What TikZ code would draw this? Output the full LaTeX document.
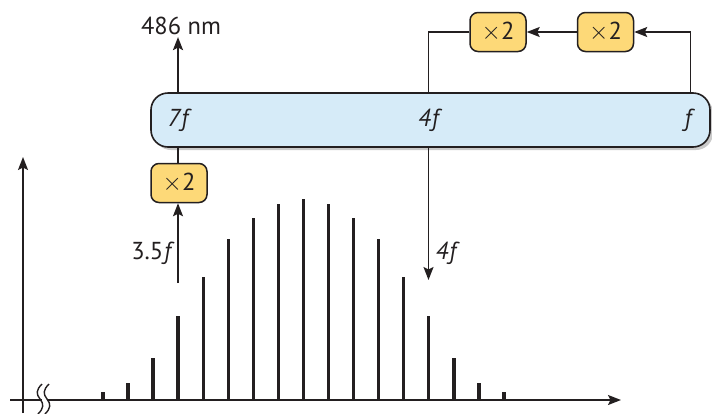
\documentclass[tikz,border=0pt]{standalone}
\usepackage{fontspec}
\setmainfont{PT Sans}
\usetikzlibrary{arrows.meta,shadows}
\definecolor{ink}{HTML}{231F20}
\definecolor{busblue}{HTML}{D6EBF8}
\definecolor{dblyellow}{HTML}{FDD978}
\begin{document}
\begin{tikzpicture}[x=1pt,y=-1pt,
  font=\fontsize{24.5}{28}\selectfont, text=ink,
  line/.style={draw=ink, line width=1.8pt},
  arr/.style={line, -{Stealth[length=13pt,width=10pt,inset=2.5pt]}},
  dbl/.style={draw=ink, fill=dblyellow, rounded corners=8pt, minimum width=56pt,
    minimum height=39pt, line width=1.5pt, inner sep=0pt},
  busbox/.style={draw=ink, fill=busblue, rounded corners=17pt, line width=1.6pt,
    minimum width=559pt, minimum height=54pt, inner sep=0pt,
    drop shadow={shadow xshift=3pt, shadow yshift=-3pt, opacity=0.35, fill=black!60}},
  bar/.style={draw=ink, line width=3.4pt},
  lbl/.style={inner sep=2pt}]
\useasboundingbox (0,0) rectangle (712,413);

% axes
\coordinate (xs) at (10,400);
\coordinate (xe) at (621,400);
\coordinate (ys) at (23,413);
\coordinate (ye) at (23,157);
\draw[arr] (xs) -- (xe);
\draw[arr] (ys) -- (ye);
% break marks
\draw[white, line width=6pt] (41.5,400) -- (47.5,400);
\draw[ink, line width=1.4pt] (42,384) .. controls (36,390) and (36,394) .. (40,399) .. controls (44,404) and (44,408) .. (38,414);
\draw[ink, line width=1.4pt] (49,384) .. controls (43,390) and (43,394) .. (47,399) .. controls (51,404) and (51,408) .. (45,414);

% comb bars
\foreach \k/\t in {0/391.7,1/383.3,2/358.3,3/315.7,4/277,5/239.3,6/218.3,7/204.3,8/199.3,
  9/204.3,10/218.3,11/239.3,12/277,13/315.7,14/358.3,15/383.3,16/391.7}{
  \draw[bar] ({103+25.06*\k},400) -- ({103+25.06*\k},\t);
}

% main box
\node[busbox] (bus) at (430.5,120) {};
\node[lbl] (l7) at (178,120) {\itshape 7\kern1pt f};
\node[lbl] (l4) at (428.5,120) {\itshape 4\kern1pt f};
\node[lbl] (lf) at (688,120) {\itshape f};
\coordinate (cR) at (690.5,120);

% frequency doublers
\node[dbl] (dA) at (179,183) {$\times$2};
\node[dbl] (dB) at (498,32) {$\times$2};
\node[dbl] (dC) at (605.5,32) {$\times$2};

% labels
\node[lbl] (nm) at (181,26) {486 nm};
\node[lbl] (s35) at (153,253) {3.5\kern1pt\textit{f}};
\node[lbl] (b4) at (446,253) {\itshape 4\kern1pt f};
\coordinate (in35) at (178,283);
\coordinate (out4) at (428.5,280);

% connectors
\draw[arr] (bus.north -| l7) -- (nm.south -| l7);
\draw[line] (bus.south -| l7) -- (dA.north -| l7);
\draw[arr] (in35) -- (dA.south -| in35);
\draw[arr] (bus.north -| cR) |- (dC.east);
\draw[arr] (dC.west) -- (dB.east);
\draw[line] (dB.west) -| (bus.north -| l4);
\draw[arr] (bus.south -| l4) -- (out4);
\end{tikzpicture}
\end{document}
